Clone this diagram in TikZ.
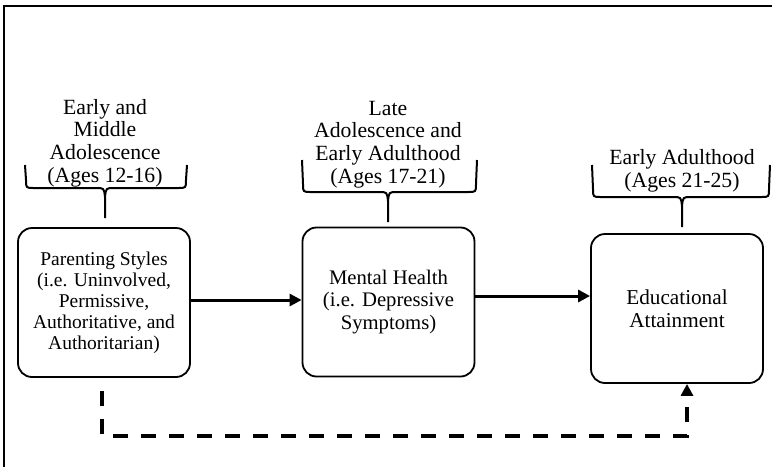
\documentclass[tikz,border=0pt]{standalone}
\usepackage{fontspec}
\setmainfont{Liberation Serif}
\usetikzlibrary{arrows.meta,positioning}

\begin{document}
\begin{tikzpicture}[x=1pt,y=-1pt,>={Triangle[length=12pt,width=12pt]},
  box node/.style={draw,line width=1.8pt,rounded corners=14pt,minimum width=172pt,minimum height=149pt,align=center,inner sep=0pt},
  age node/.style={align=center,inner sep=0pt,anchor=south,font=\fontsize{21.7}{22.6}\selectfont},
  bracket/.style={line width=2pt,line join=round},
  path arrow/.style={->,line width=3pt},
  direct arrow/.style={->,line width=4pt,dash pattern=on 15pt off 13pt}]
    \useasboundingbox (0,0) rectangle (772,467);
    \draw[line width=1.5pt] (4,467) -- (4,6) -- (772,6);

    \node[box node,font=\fontsize{19.5}{21}\selectfont] (parenting) at (104,302.5) {Parenting Styles\\(i.e. Uninvolved,\\Permissive,\\Authoritative, and\\Authoritarian)};
    \node[box node,font=\fontsize{20.7}{22.5}\selectfont] (mental) at (388.5,302) {Mental Health\\(i.e. Depressive\\Symptoms)};
    \node[box node,font=\fontsize{21.2}{22.5}\selectfont] (education) at (677,308.5) {Educational\\Attainment};

    \node[age node] (earlymid) at (105,187) {Early and\\Middle\\Adolescence\\(Ages 12-16)};
    \node[age node] (lateado) at (388,188) {Late\\Adolescence and\\Early Adulthood\\(Ages 17-21)};
    \node[age node] (earlyadult) at (682,192) {Early Adulthood\\(Ages 21-25)};

    % brackets over the three periods
    \foreach \l/\r/\t/\b/\m/\e in {25/187/165/188/105/218, 302/477/160/192/388/222, 592/770/165/197/682/227}
      \draw[bracket] (\l,\t) -- (\l+1,\b-8) .. controls (\l+1,\b) .. (\l+9,\b) -- (\m-9,\b) .. controls (\m-1,\b) .. (\m,\b+9) -- (\m,\e)
        (\r,\t) -- (\r-1,\b-8) .. controls (\r-1,\b) .. (\r-9,\b) -- (\m+9,\b) .. controls (\m+1,\b) .. (\m,\b+9);

    \draw[path arrow] ([yshift=2.5pt]parenting.east) -- ([yshift=2.5pt]parenting.east -| mental.west);
    \draw[path arrow] ([yshift=6pt]mental.east) -- ([yshift=6pt]mental.east -| education.west);
    \draw[direct arrow] ([xshift=-2pt,yshift=-13pt]parenting.south) -- ++(0,45) -| ([xshift=10pt]education.south);
\end{tikzpicture}
\end{document}
